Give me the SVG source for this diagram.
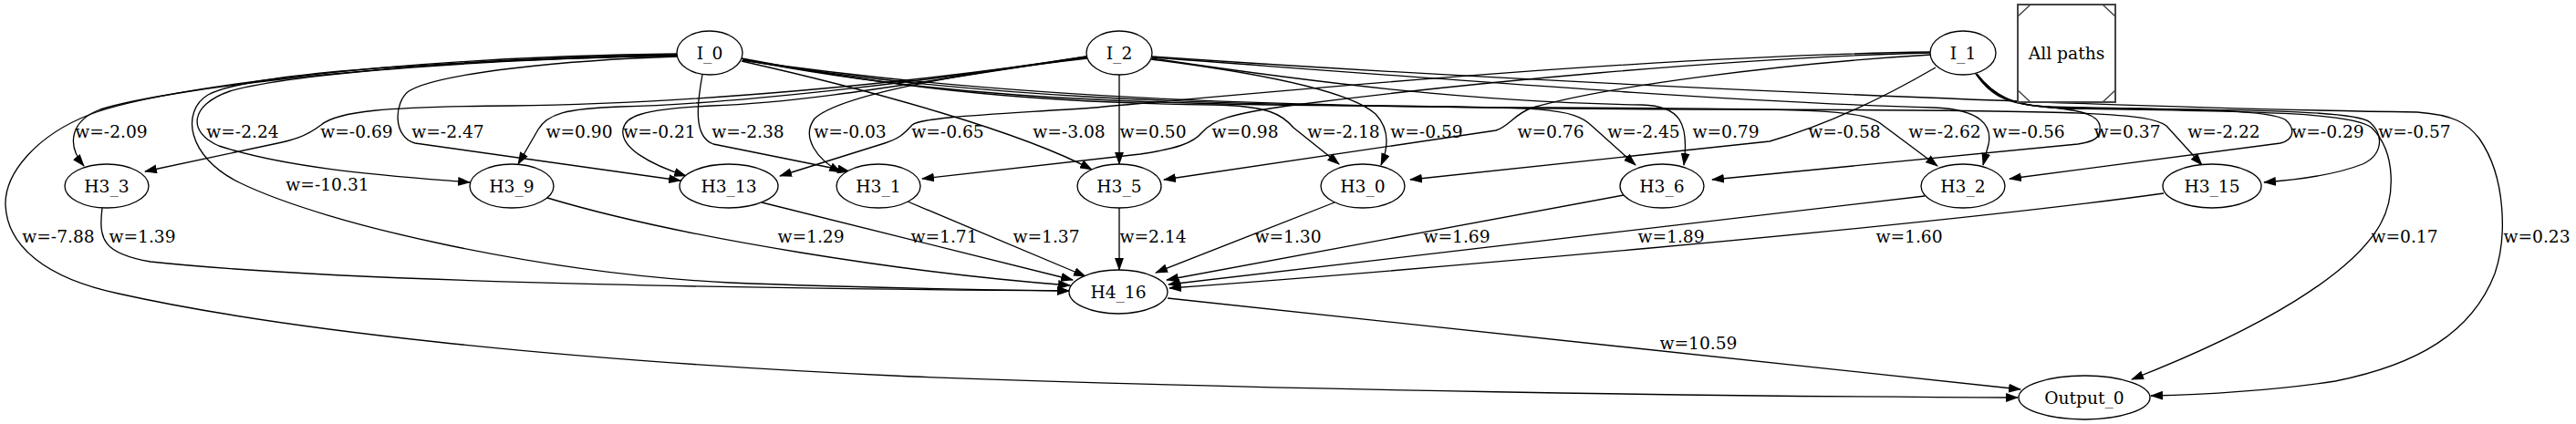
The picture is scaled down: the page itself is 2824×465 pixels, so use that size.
<svg xmlns="http://www.w3.org/2000/svg" width="2824" height="465" viewBox="0 0 2824 465">
<style>
.n ellipse{fill:#fff;stroke:#000;stroke-width:1.33}
.t{font-family:"DejaVu Serif","Liberation Serif",serif;font-size:18.67px;fill:#000;text-anchor:middle}
.e path{fill:none;stroke:#000;stroke-width:1.33;marker-end:url(#ah)}
</style>
<defs>
<marker id="ah" markerUnits="userSpaceOnUse" markerWidth="14" markerHeight="10" viewBox="0 0 13.3 9.4" refX="12.3" refY="4.7" orient="auto">
<path d="M0,0 L13.3,4.7 L0,9.4 z" fill="#000"/>
</marker>
</defs>
<rect width="2824" height="465" fill="#fff"/>
<g id="connectors" class="e">
<path d="M742,60 C480,63 190,95 110,120 C78,132 72,158 92,182"/>
<path d="M742,61 C550,64 320,80 252,100 C208,115 205,145 240,160 C320,186 430,193 515,200"/>
<path d="M742,62 C620,66 480,80 448,100 C432,112 430,150 455,157 L746,198"/>
<path d="M770,82 C764,115 760,150 782,158 L931,188"/>
<path d="M813,67 C960,100 1120,145 1197,186"/>
<path d="M813,64 C1000,100 1150,113 1330,115 C1390,116 1405,125 1418,140 L1468,180"/>
<path d="M814,65 C1000,102 1200,115 1500,116 C1690,117 1725,118 1745,138 L1793,181"/>
<path d="M814,66 C1050,105 1300,117 1700,118 C2000,119 2045,120 2065,138 L2124,182"/>
<path d="M814,66 C1100,108 1400,119 1900,120 C2300,121 2355,124 2375,138 L2414,181"/>
<path d="M742,61 C550,65 280,76 228,104 C198,122 205,172 262,200 C360,248 600,300 800,310 C950,316 1100,318 1172,319"/>
<path d="M742,59 C450,62 180,95 100,125 C40,148 5,190 6,225 C8,270 50,305 130,322 C300,360 600,395 1000,413 C1400,428 1900,435 2212,436"/>
<path d="M1191,62 C1000,92 750,114 560,116 C420,117 370,122 352,137 C335,150 320,154 300,158 L159,188"/>
<path d="M1191,62 C1000,92 800,114 680,117 C620,119 600,125 590,142 L568,180"/>
<path d="M1191,63 C1050,82 900,112 780,116 C700,120 686,128 683,142 C680,162 712,180 752,193"/>
<path d="M1192,64 C1050,80 920,105 893,130 C878,150 895,175 922,189"/>
<path d="M1227,82 L1227,180"/>
<path d="M1262,65 C1380,80 1480,100 1508,125 C1524,142 1522,162 1514,181"/>
<path d="M1263,64 C1450,92 1620,112 1800,115 C1842,116 1852,135 1846,181"/>
<path d="M1263,63 C1600,88 1900,112 2120,118 C2172,120 2184,138 2180,158 L2174,181"/>
<path d="M1263,62 C1700,92 2300,118 2650,123 C2690,126 2705,135 2718,152 C2748,195 2748,262 2735,300 C2710,365 2650,400 2560,418 C2480,430 2400,433 2358,434"/>
<path d="M2116,57 C1800,62 1400,100 1200,118 C1100,125 1010,128 1000,137 C990,148 985,152 970,157 L855,193"/>
<path d="M2116,58 C1900,63 1600,92 1420,115 C1345,125 1330,132 1318,145 C1308,157 1290,163 1250,169 L1011,196"/>
<path d="M2117,60 C1950,70 1760,95 1680,118 C1660,125 1655,138 1640,143 L1276,197"/>
<path d="M2122,74 C2060,110 2000,138 1940,155 L1546,197"/>
<path d="M2166,81 C2180,102 2196,113 2232,116 C2275,120 2300,124 2302,138 C2303,150 2298,155 2278,158 L1877,197"/>
<path d="M2166,81 C2182,103 2200,115 2245,117 C2360,120 2482,118 2505,131 C2516,140 2516,153 2500,157 L2203,196"/>
<path d="M2167,81 C2184,104 2205,116 2255,118 C2420,121 2580,119 2598,134 C2614,148 2612,170 2590,180 C2560,192 2520,197 2482,200"/>
<path d="M2167,81 C2186,105 2206,117 2262,119 C2450,122 2578,122 2600,140 C2628,168 2625,218 2610,245 C2580,300 2480,360 2337,416"/>
<path d="M112,228 C108,262 112,278 165,287 C400,312 900,317 1172,319"/>
<path d="M600,217 C750,262 1000,300 1173,313"/>
<path d="M835,222 L1176,307"/>
<path d="M995,221 L1190,303"/>
<path d="M1227,228 L1227,296"/>
<path d="M1463,222 L1267,299"/>
<path d="M1780,214 L1279,307"/>
<path d="M2110,215 L1281,312"/>
<path d="M2372,212 C2100,250 1500,300 1282,316"/>
<path d="M1280,327 L2215,427"/>
<g class="t">
<text x="122" y="151">w=-2.09</text>
<text x="266" y="151">w=-2.24</text>
<text x="391" y="151">w=-0.69</text>
<text x="491" y="151">w=-2.47</text>
<text x="635" y="151">w=0.90</text>
<text x="723" y="151">w=-0.21</text>
<text x="820" y="151">w=-2.38</text>
<text x="932" y="151">w=-0.03</text>
<text x="1039" y="151">w=-0.65</text>
<text x="1172" y="151">w=-3.08</text>
<text x="1264" y="151">w=0.50</text>
<text x="1365" y="151">w=0.98</text>
<text x="1473" y="151">w=-2.18</text>
<text x="1564" y="151">w=-0.59</text>
<text x="1700" y="151">w=0.76</text>
<text x="1802" y="151">w=-2.45</text>
<text x="1892" y="151">w=0.79</text>
<text x="2022" y="151">w=-0.58</text>
<text x="2132" y="151">w=-2.62</text>
<text x="2224" y="151">w=-0.56</text>
<text x="2332" y="151">w=0.37</text>
<text x="2438" y="151">w=-2.22</text>
<text x="2552" y="151">w=-0.29</text>
<text x="2647" y="151">w=-0.57</text>
<text x="359" y="209">w=-10.31</text>
<text x="64" y="266">w=-7.88</text>
<text x="156" y="266">w=1.39</text>
<text x="889" y="266">w=1.29</text>
<text x="1035" y="266">w=1.71</text>
<text x="1147" y="266">w=1.37</text>
<text x="1264" y="266">w=2.14</text>
<text x="1412" y="266">w=1.30</text>
<text x="1597" y="266">w=1.69</text>
<text x="1832" y="266">w=1.89</text>
<text x="2093" y="266">w=1.60</text>
<text x="2636" y="266">w=0.17</text>
<text x="2781" y="266">w=0.23</text>
<text x="1862" y="383">w=10.59</text>
</g>
</g>
<g id="I_0" class="n"><ellipse cx="778" cy="58" rx="36" ry="24"/><text class="t" x="778" y="64.5">I_0</text></g>
<g id="I_2" class="n"><ellipse cx="1227" cy="58" rx="36" ry="24"/><text class="t" x="1227" y="64.5">I_2</text></g>
<g id="I_1" class="n"><ellipse cx="2152" cy="58" rx="36" ry="24"/><text class="t" x="2152" y="64.5">I_1</text></g>
<g id="legend">
<rect x="2212" y="5" width="107" height="107" fill="#fff" stroke="#444" stroke-width="2"/>
<path d="M2212,18 L2226,5 M2305,5 L2319,18 M2212,99 L2226,112 M2305,112 L2319,99" fill="none" stroke="#444" stroke-width="1.5"/>
<text class="t" x="2265.5" y="64.5">All paths</text>
</g>
<g id="H3_3" class="n"><ellipse cx="117" cy="204" rx="46" ry="24"/><text class="t" x="117" y="210.5">H3_3</text></g>
<g id="H3_9" class="n"><ellipse cx="561" cy="204" rx="46" ry="24"/><text class="t" x="561" y="210.5">H3_9</text></g>
<g id="H3_13" class="n"><ellipse cx="799" cy="204" rx="54" ry="24"/><text class="t" x="799" y="210.5">H3_13</text></g>
<g id="H3_1" class="n"><ellipse cx="963" cy="204" rx="46" ry="24"/><text class="t" x="963" y="210.5">H3_1</text></g>
<g id="H3_5" class="n"><ellipse cx="1227" cy="204" rx="46" ry="24"/><text class="t" x="1227" y="210.5">H3_5</text></g>
<g id="H3_0" class="n"><ellipse cx="1494" cy="204" rx="46" ry="24"/><text class="t" x="1494" y="210.5">H3_0</text></g>
<g id="H3_6" class="n"><ellipse cx="1822" cy="204" rx="46" ry="24"/><text class="t" x="1822" y="210.5">H3_6</text></g>
<g id="H3_2" class="n"><ellipse cx="2152" cy="204" rx="46" ry="24"/><text class="t" x="2152" y="210.5">H3_2</text></g>
<g id="H3_15" class="n"><ellipse cx="2425" cy="204" rx="54" ry="24"/><text class="t" x="2425" y="210.5">H3_15</text></g>
<g id="H4_16" class="n"><ellipse cx="1226" cy="320" rx="54" ry="24"/><text class="t" x="1226" y="326.5">H4_16</text></g>
<g id="Output_0" class="n"><ellipse cx="2285" cy="436" rx="72" ry="24"/><text class="t" x="2285" y="442.5">Output_0</text></g>
</svg>
